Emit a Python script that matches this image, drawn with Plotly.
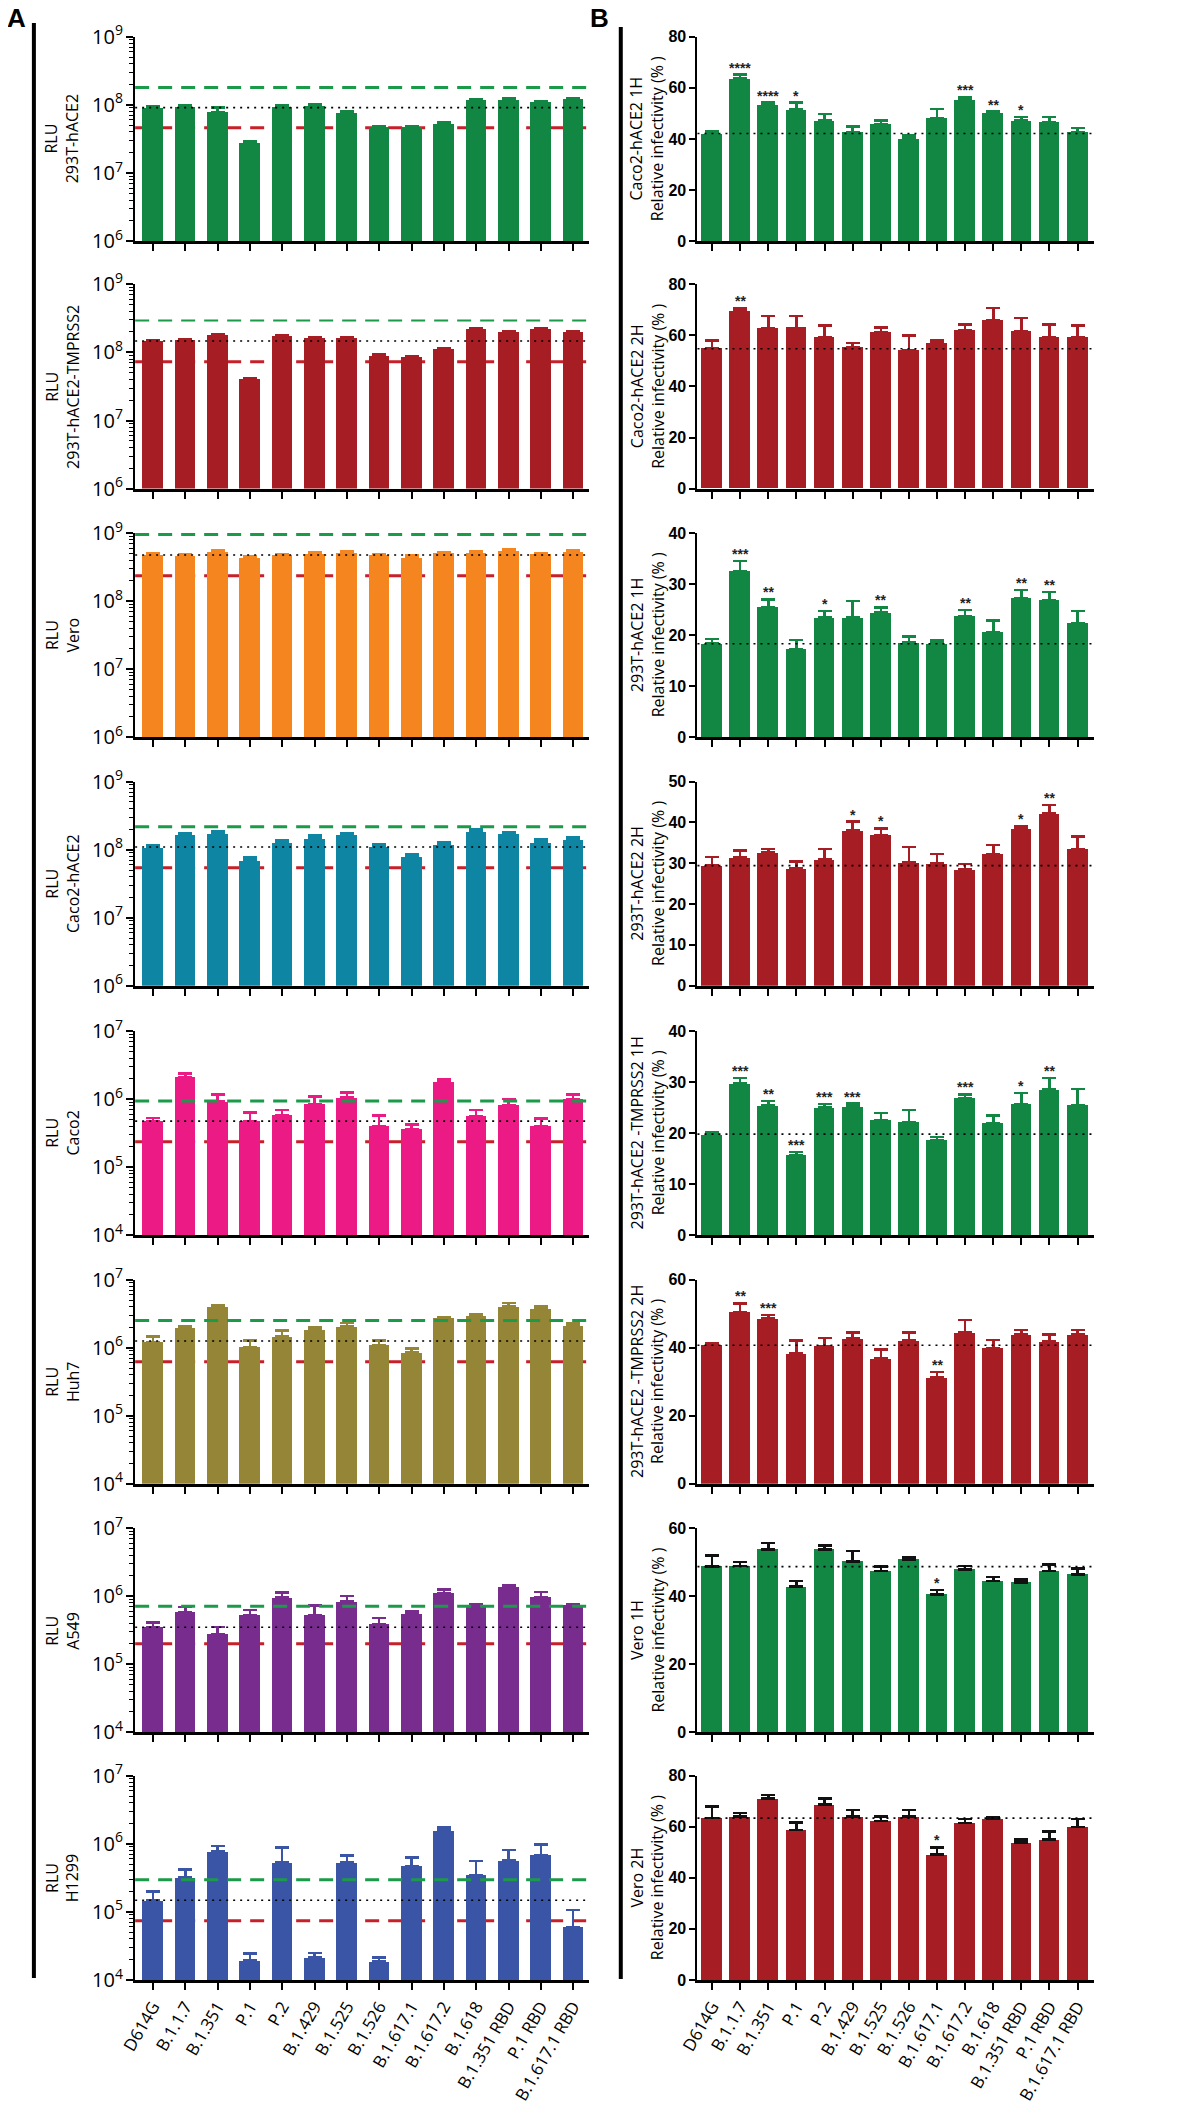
import plotly.graph_objects as go

W, H = 1181, 2122

variants = ["D614G", "B.1.1.7", "B.1.351", "P.1", "P.2", "B.1.429", "B.1.525", "B.1.526",
            "B.1.617.1", "B.1.617.2", "B.1.618", "B.1.351 RBD", "P.1 RBD", "B.1.617.1 RBD"]

# ---- Panel A: RLU by cell line (bar value, top of error bar) ----
rlu_cells = ["293T-hACE2", "293T-hACE2-TMPRSS2", "Vero", "Caco2-hACE2", "Caco2", "Huh7", "A549", "H1299"]
rlu_colors = ["#118743", "#a61d24", "#f5851f", "#0e85a2", "#ec1a84", "#958536", "#782d8e", "#3b55a6"]
rlu_ranges = [(6, 9), (6, 9), (6, 9), (6, 9), (4, 7), (4, 7), (4, 7), (4, 7)]

rlu_293t = [9.1e7, 9.4e7, 7.9e7, 2.8e7, 9.4e7, 9.6e7, 7.7e7, 4.7e7, 4.7e7, 5.2e7, 1.17e8, 1.2e8, 1.1e8, 1.22e8]
rlu_293t_top = [9.4e7, 9.8e7, 9.1e7, 2.9e7, 9.8e7, 1.01e8, 8.0e7, 4.9e7, 4.8e7, 5.6e7, 1.22e8, 1.24e8, 1.13e8, 1.27e8]
rlu_293t_tm = [1.47e8, 1.52e8, 1.8e8, 3.97e7, 1.73e8, 1.6e8, 1.6e8, 8.9e7, 8.4e7, 1.11e8, 2.17e8, 2.0e8, 2.2e8, 1.98e8]
rlu_293t_tm_top = [1.52e8, 1.57e8, 1.87e8, 4.15e7, 1.8e8, 1.65e8, 1.65e8, 9.3e7, 8.8e7, 1.16e8, 2.25e8, 2.06e8, 2.27e8, 2.04e8]
rlu_vero = [4.75e8, 4.6e8, 5.3e8, 4.35e8, 4.7e8, 4.97e8, 5.1e8, 4.7e8, 4.35e8, 5.0e8, 5.1e8, 5.5e8, 4.85e8, 5.3e8]
rlu_vero_top = [5.0e8, 4.8e8, 5.6e8, 4.55e8, 4.9e8, 5.2e8, 5.4e8, 4.9e8, 4.7e8, 5.2e8, 5.4e8, 5.8e8, 5.05e8, 5.55e8]
rlu_caco2_ace2 = [1.09e8, 1.64e8, 1.7e8, 6.98e7, 1.26e8, 1.47e8, 1.66e8, 1.11e8, 7.9e7, 1.2e8, 1.85e8, 1.7e8, 1.29e8, 1.41e8]
rlu_caco2_ace2_top = [1.17e8, 1.73e8, 1.85e8, 7.6e7, 1.39e8, 1.6e8, 1.72e8, 1.2e8, 8.4e7, 1.3e8, 1.96e8, 1.8e8, 1.4e8, 1.5e8]
rlu_caco2 = [4.74e5, 2.12e6, 9.2e5, 4.74e5, 5.8e5, 8.4e5, 1.05e6, 4.0e5, 3.6e5, 1.8e6, 5.6e5, 8.1e5, 4.0e5, 9.96e5]
rlu_caco2_top = [5.3e5, 2.37e6, 1.17e6, 6.4e5, 6.9e5, 1.09e6, 1.26e6, 5.7e5, 4.25e5, 1.94e6, 6.9e5, 1.0e6, 5.2e5, 1.17e6]
rlu_huh7 = [1.21e6, 2.0e6, 4.0e6, 1.02e6, 1.47e6, 1.85e6, 2.07e6, 1.1e6, 8.5e5, 2.73e6, 2.95e6, 4.0e6, 3.8e6, 2.14e6]
rlu_huh7_top = [1.45e6, 2.07e6, 4.2e6, 1.28e6, 1.8e6, 2.0e6, 2.3e6, 1.28e6, 9.8e5, 2.8e6, 3.1e6, 4.5e6, 4.1e6, 2.3e6]
rlu_a549 = [3.5e5, 5.8e5, 2.77e5, 5.2e5, 9.5e5, 5.3e5, 8.3e5, 3.9e5, 5.4e5, 1.1e6, 7.0e5, 1.36e6, 9.8e5, 7.5e5]
rlu_a549_top = [4.1e5, 7.0e5, 3.5e5, 6.3e5, 1.13e6, 7.3e5, 1.0e6, 4.8e5, 6.0e5, 1.26e6, 7.6e5, 1.47e6, 1.16e6, 7.7e5]
rlu_h1299 = [1.48e5, 3.17e5, 7.7e5, 1.93e4, 5.35e5, 2.14e4, 5.35e5, 1.88e4, 4.7e5, 1.57e6, 3.5e5, 5.7e5, 6.8e5, 5.96e4]
rlu_h1299_top = [2.0e5, 4.2e5, 9.3e5, 2.45e4, 8.8e5, 2.5e4, 6.7e5, 2.14e4, 6.3e5, 1.74e6, 5.6e5, 8.1e5, 9.7e5, 1.06e5]

# reference levels: green dashed (high), black dotted (D614G), red dashed (low)
rlu_ref_high = [1.8e8, 2.95e8, 9.5e8, 2.17e8, 9.4e5, 2.5e6, 7.1e5, 2.96e5]
rlu_ref_mid = [9.1e7, 1.47e8, 4.75e8, 1.09e8, 4.74e5, 1.25e6, 3.5e5, 1.48e5]
rlu_ref_low = [4.6e7, 7.3e7, 2.35e8, 5.4e7, 2.36e5, 6.2e5, 2.0e5, 7.4e4]

# ---- Panel B: relative infectivity (%) ----
inf_titles = ["Caco2-hACE2 1H", "Caco2-hACE2 2H", "293T-hACE2 1H", "293T-hACE2 2H",
              "293T-hACE2 -TMPRSS2 1H", "293T-hACE2 -TMPRSS2 2H", "Vero 1H", "Vero 2H"]
inf_ymax = [80, 80, 40, 50, 40, 60, 60, 80]
inf_dtick = [20, 20, 10, 10, 10, 20, 20, 20]

inf_caco2_1h = [42.1, 63.6, 53.5, 51.5, 47.2, 42.6, 45.8, 40.1, 48.1, 55.2, 50.1, 47.2, 46.6, 42.7]
inf_caco2_1h_top = [43.0, 65.2, 54.2, 54.2, 49.7, 44.9, 47.2, 41.4, 51.7, 56.3, 50.7, 48.5, 48.5, 44.3]
inf_caco2_1h_sig = ["", "****", "****", "*", "", "", "", "", "", "***", "**", "*", "", ""]
inf_caco2_2h = [54.8, 69.4, 62.8, 63.0, 59.4, 55.2, 61.3, 54.2, 57.0, 61.9, 65.8, 61.5, 59.4, 59.1]
inf_caco2_2h_top = [58.1, 70.6, 67.7, 67.7, 63.9, 57.0, 63.2, 60.0, 58.1, 64.3, 70.7, 66.8, 64.3, 63.9]
inf_caco2_2h_sig = ["", "**", "", "", "", "", "", "", "", "", "", "", "", ""]
inf_293t_1h = [18.3, 32.5, 25.5, 17.2, 23.4, 23.4, 24.4, 18.5, 18.3, 23.7, 20.6, 27.2, 26.9, 22.4]
inf_293t_1h_top = [19.2, 34.5, 27.0, 19.0, 24.7, 26.7, 25.4, 19.7, 18.9, 24.9, 22.8, 28.8, 28.4, 24.7]
inf_293t_1h_sig = ["", "***", "**", "", "*", "", "**", "", "", "**", "", "**", "**", ""]
inf_293t_2h = [29.4, 31.5, 32.7, 28.8, 30.9, 38.1, 36.9, 30.2, 30.0, 28.5, 32.3, 38.5, 42.2, 33.5]
inf_293t_2h_top = [31.5, 33.1, 33.5, 30.4, 33.5, 40.2, 38.5, 34.0, 32.3, 29.8, 34.5, 39.0, 44.2, 36.5]
inf_293t_2h_sig = ["", "", "", "", "", "*", "*", "", "", "", "", "*", "**", ""]
inf_293t_tm_1h = [19.7, 29.7, 25.4, 15.7, 25.0, 25.2, 22.6, 22.1, 18.6, 26.8, 22.0, 25.7, 28.5, 25.5]
inf_293t_tm_1h_top = [20.2, 30.8, 26.3, 16.3, 25.7, 25.8, 23.9, 24.5, 19.2, 27.6, 23.5, 27.9, 30.8, 28.6]
inf_293t_tm_1h_sig = ["", "***", "**", "***", "***", "***", "", "", "", "***", "", "*", "**", ""]
inf_293t_tm_2h = [40.8, 50.5, 48.6, 38.4, 40.5, 42.8, 36.8, 42.1, 31.2, 44.5, 39.9, 43.8, 41.9, 43.9]
inf_293t_tm_2h_top = [41.4, 53.0, 49.6, 42.1, 42.8, 44.5, 39.4, 44.5, 32.9, 48.1, 42.3, 45.2, 43.9, 45.2]
inf_293t_tm_2h_sig = ["", "**", "***", "", "", "", "", "", "**", "", "", "", "", ""]
inf_vero_1h = [48.7, 48.9, 53.8, 42.8, 53.8, 50.2, 47.4, 50.8, 40.5, 47.9, 44.4, 44.1, 47.4, 46.4]
inf_vero_1h_top = [51.9, 50.0, 55.7, 44.4, 54.9, 53.3, 48.8, 51.5, 41.8, 48.9, 45.7, 44.9, 49.3, 48.2]
inf_vero_1h_sig = ["", "", "", "", "", "", "", "", "*", "", "", "", "", ""]
inf_vero_2h = [63.4, 64.1, 71.1, 58.8, 68.8, 64.1, 62.2, 64.1, 49.2, 61.4, 63.0, 53.8, 55.0, 59.9]
inf_vero_2h_top = [68.0, 65.3, 72.5, 61.6, 71.1, 66.5, 64.1, 66.5, 51.9, 63.1, 63.7, 55.0, 58.1, 63.0]
inf_vero_2h_sig = ["", "", "", "", "", "", "", "", "*", "", "", "", "", ""]
inf_ref = [42.1, 54.8, 18.3, 29.4, 19.8, 40.7, 48.7, 63.4]

rlu_vals = [rlu_293t, rlu_293t_tm, rlu_vero, rlu_caco2_ace2, rlu_caco2, rlu_huh7, rlu_a549, rlu_h1299]
rlu_tops = [rlu_293t_top, rlu_293t_tm_top, rlu_vero_top, rlu_caco2_ace2_top, rlu_caco2_top,
            rlu_huh7_top, rlu_a549_top, rlu_h1299_top]
inf_vals = [inf_caco2_1h, inf_caco2_2h, inf_293t_1h, inf_293t_2h, inf_293t_tm_1h, inf_293t_tm_2h,
            inf_vero_1h, inf_vero_2h]
inf_tops = [inf_caco2_1h_top, inf_caco2_2h_top, inf_293t_1h_top, inf_293t_2h_top, inf_293t_tm_1h_top,
            inf_293t_tm_2h_top, inf_vero_1h_top, inf_vero_2h_top]
inf_sigs = [inf_caco2_1h_sig, inf_caco2_2h_sig, inf_293t_1h_sig, inf_293t_2h_sig, inf_293t_tm_1h_sig,
            inf_293t_tm_2h_sig, inf_vero_1h_sig, inf_vero_2h_sig]
inf_colors = ["#118743", "#a61d24"] * 4
inf_err_colors = ["#118743", "#a61d24"] * 3 + ["#111111", "#111111"]

GREEN_LINE = "#1b9a4a"
RED_LINE = "#c8202a"
REG = "Open Sans"
BOLD = "Liberation Sans, Arial, sans-serif"

# layout in pixels (window coords); OFF compensates where the page places the figure
OFF = 24
panel_tops = [37, 288, 540, 792, 1045, 1297, 1549, 1800]
panel_h = 207
left_x = (133, 595)
right_x = (705, 1108)


def px(x):
    return (x - OFF) / W


def py(y):
    return 1 - (y - OFF) / H


def names(n):
    s = "" if n == 1 else str(n)
    return "xaxis" + s, "yaxis" + s, "x" + s, "y" + s


fig = go.Figure()
shapes = []
annotations = []
axes = {}

ticks_x = list(range(len(variants)))

for i in range(8):
    # ---------- left column (RLU, log) ----------
    n = i + 1
    xa, ya, xr, yr = names(n)
    top, bot = panel_tops[i], panel_tops[i] + panel_h
    errs = [t - v for t, v in zip(rlu_tops[i], rlu_vals[i])]
    fig.add_trace(go.Bar(
        x=ticks_x, y=rlu_vals[i], width=0.64, xaxis=xr, yaxis=yr,
        marker=dict(color=rlu_colors[i], line=dict(width=0)),
        error_y=dict(type="data", symmetric=False, array=errs, arrayminus=[0] * 14,
                     color=rlu_colors[i], thickness=2.5, width=7),
        showlegend=False,
    ))
    last = i == 7
    axes[xa] = dict(domain=[px(left_x[0]), px(left_x[1])], anchor=yr, range=[-0.55, 13.5],
                    tickvals=ticks_x, ticktext=variants, showticklabels=last, tickangle=-60,
                    tickfont=dict(family=REG, size=17, color="black"),
                    showline=True, linewidth=3, linecolor="black", ticks="outside",
                    ticklen=7, tickwidth=2, tickcolor="black", showgrid=False, zeroline=False)
    lo, hi = rlu_ranges[i]
    axes[ya] = dict(domain=[py(bot), py(top)], anchor=xr, type="log", range=[lo, hi], dtick=1,
                    exponentformat="power", showexponent="all",
                    tickfont=dict(family=REG, size=16, color="black"),
                    showline=True, linewidth=2, linecolor="black", ticks="outside",
                    ticklen=7, tickwidth=2, tickcolor="black", showgrid=False, zeroline=False,
                    minor=dict(ticks="outside", ticklen=4, tickwidth=1, tickcolor="black",
                               dtick="D1", showgrid=False))
    dom = xr + " domain"
    shapes.append(dict(type="line", xref=dom, x0=0, x1=1, yref=yr, y0=rlu_ref_low[i], y1=rlu_ref_low[i],
                       line=dict(color=RED_LINE, width=3, dash="14px,9px"), layer="below"))
    shapes.append(dict(type="line", xref=dom, x0=0, x1=1, yref=yr, y0=rlu_ref_mid[i], y1=rlu_ref_mid[i],
                       line=dict(color="black", width=1.6, dash="2px,5px"), layer="above"))
    shapes.append(dict(type="line", xref=dom, x0=0, x1=1, yref=yr, y0=rlu_ref_high[i], y1=rlu_ref_high[i],
                       line=dict(color=GREEN_LINE, width=2 if i == 1 else 3, dash="14px,9px"),
                       layer="above"))
    annotations.append(dict(xref="paper", yref="paper", x=px(59), y=py((top + bot) / 2),
                            text="RLU<br>" + rlu_cells[i], textangle=-90, showarrow=False,
                            xanchor="center", yanchor="middle",
                            font=dict(family=REG, size=16, color="black")))

    # ---------- right column (relative infectivity) ----------
    n = i + 9
    xa, ya, xr, yr = names(n)
    errs = [t - v for t, v in zip(inf_tops[i], inf_vals[i])]
    fig.add_trace(go.Bar(
        x=ticks_x, y=inf_vals[i], width=0.74, xaxis=xr, yaxis=yr,
        marker=dict(color=inf_colors[i], line=dict(width=0)),
        error_y=dict(type="data", symmetric=False, array=errs, arrayminus=[0] * 14,
                     color=inf_err_colors[i], thickness=2.5, width=7),
        showlegend=False,
    ))
    axes[xa] = dict(domain=[px(right_x[0]), px(right_x[1])], anchor=yr, range=[-0.52, 13.57],
                    tickvals=ticks_x, ticktext=variants, showticklabels=last, tickangle=-60,
                    tickfont=dict(family=REG, size=17, color="black"),
                    showline=True, linewidth=3, linecolor="black", ticks="outside",
                    ticklen=7, tickwidth=2, tickcolor="black", showgrid=False, zeroline=False)
    axes[ya] = dict(domain=[py(bot), py(top)], anchor=xr, range=[0, inf_ymax[i]], dtick=inf_dtick[i],
                    tickfont=dict(family=BOLD, size=16, color="black", weight="bold"),
                    showline=True, linewidth=2, linecolor="black", ticks="outside",
                    ticklen=6, tickwidth=2, tickcolor="black", showgrid=False, zeroline=False)
    dom = xr + " domain"
    shapes.append(dict(type="line", xref=dom, x0=0, x1=1, yref=yr, y0=inf_ref[i], y1=inf_ref[i],
                       line=dict(color="black", width=1.6, dash="2px,5px"), layer="above"))
    annotations.append(dict(xref="paper", yref="paper", x=px(654), y=py((top + bot) / 2),
                            text=inf_titles[i] + "<br>Relative infectivity (% )", textangle=-90,
                            showarrow=False, xanchor="center", yanchor="middle",
                            font=dict(family=REG, size=16, color="black")))
    for k, s in enumerate(inf_sigs[i]):
        if s:
            annotations.append(dict(xref=xr, yref=yr, x=k, y=inf_tops[i][k], text=s,
                                    showarrow=False, yanchor="bottom", yshift=-3,
                                    font=dict(family=BOLD, size=14, color="#222222", weight="bold")))

# panel brackets and letters
shapes.append(dict(type="line", xref="paper", yref="paper", x0=px(30), x1=px(30), y0=py(23), y1=py(2005),
                   line=dict(color="black", width=4)))
shapes.append(dict(type="line", xref="paper", yref="paper", x0=px(627), x1=px(627), y0=py(27), y1=py(2006),
                   line=dict(color="black", width=4)))
for letter, lx in (("A", 12), ("B", 605)):
    annotations.append(dict(xref="paper", yref="paper", x=px(lx), y=py(1), text="<b>" + letter + "</b>",
                            showarrow=False, xanchor="center", yanchor="top",
                            font=dict(family=BOLD, size=26, color="black")))

fig.update_layout(
    width=W, height=H, autosize=False,
    margin=dict(l=0, r=0, t=0, b=0),
    paper_bgcolor="white", plot_bgcolor="white",
    shapes=shapes, annotations=annotations,
    showlegend=False, bargap=0,
    **axes,
)

fig.write_html("out.html")
